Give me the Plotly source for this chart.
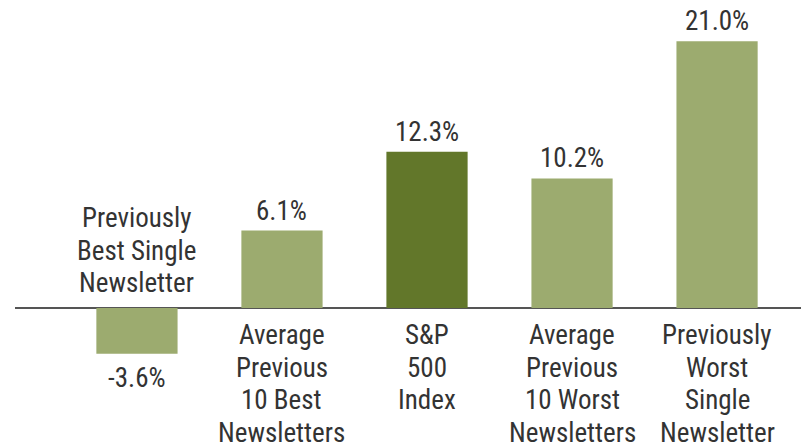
import plotly.graph_objects as go

categories = [
    "Previously<br>Best Single<br>Newsletter",
    "Average<br>Previous<br>10 Best<br>Newsletters",
    "S&P<br>500<br>Index",
    "Average<br>Previous<br>10 Worst<br>Newsletters",
    "Previously<br>Worst<br>Single<br>Newsletter",
]
values = [-3.6, 6.1, 12.3, 10.2, 21.0]
value_labels = ["-3.6%", "6.1%", "12.3%", "10.2%", "21.0%"]
colors = ["#9cab6f", "#9cab6f", "#62772a", "#9cab6f", "#9cab6f"]

FONT = "Roboto Condensed, Liberation Sans Narrow, Roboto, sans-serif"
TXT = "#333333"
FS = 27
LINE = 32.5

x = list(range(len(values)))
fig = go.Figure()
fig.add_trace(go.Bar(x=x, y=values, marker=dict(color=colors, line=dict(width=0)),
                     hoverinfo="skip"))

ann = []
f = dict(size=FS, family=FONT, color=TXT)
for i, (c, v, lab) in enumerate(zip(categories, values, value_labels)):
    lines = c.split("<br>")
    if v >= 0:
        ann.append(dict(x=i, y=v, text=lab, showarrow=False, yanchor="middle",
                        yshift=20, font=f))
        for k, t in enumerate(lines):
            ann.append(dict(x=i, y=0, text=t, showarrow=False, yanchor="middle",
                            yshift=-27 - LINE * k, font=f))
    else:
        ann.append(dict(x=i, y=v, text=lab, showarrow=False, yanchor="middle",
                        yshift=-24, font=f))
        for k, t in enumerate(reversed(lines)):
            ann.append(dict(x=i, y=0, text=t, showarrow=False, yanchor="middle",
                            yshift=25 + LINE * k, font=f))

fig.update_layout(
    width=801, height=439,
    margin=dict(l=7, r=0, t=0, b=0),
    paper_bgcolor="white", plot_bgcolor="white",
    bargap=0.44, showlegend=False,
    annotations=ann,
    xaxis=dict(range=[-0.841, 4.634], showticklabels=False, showgrid=False,
               zeroline=False, showline=False, ticks=""),
    yaxis=dict(range=[-10.94, 23.62], showticklabels=False, showgrid=False,
               zeroline=True, zerolinecolor="#555555", zerolinewidth=1.5,
               showline=False, ticks=""),
)
fig.write_html("out.html")
